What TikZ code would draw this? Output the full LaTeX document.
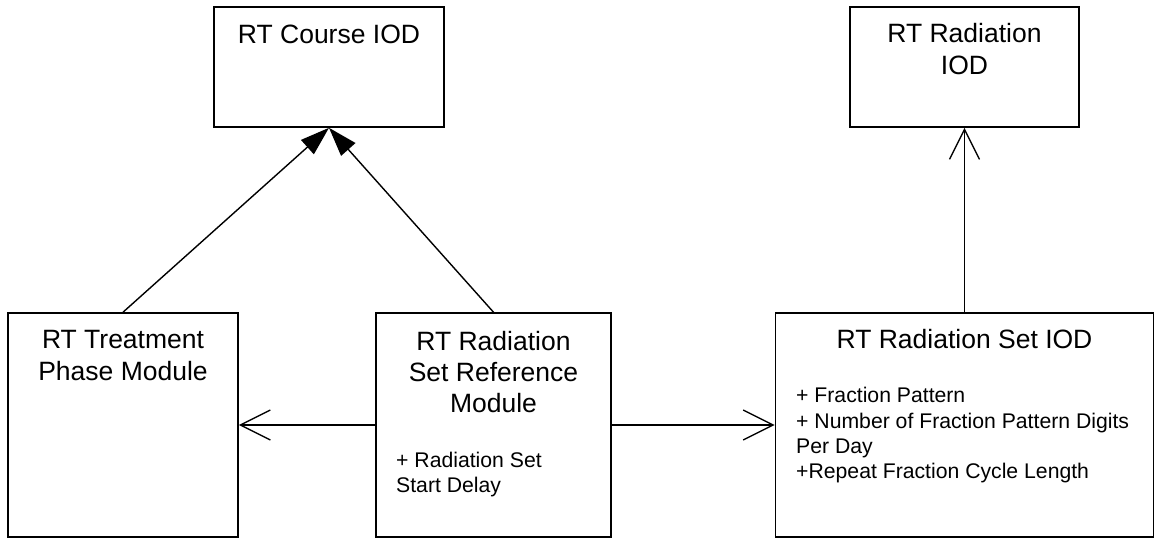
\documentclass[tikz,border=0pt]{standalone}
\usepackage{fontspec}
\setmainfont{Liberation Sans}
\usetikzlibrary{arrows.meta}
\begin{document}
\begin{tikzpicture}[x=1pt,y=-1pt,
  box/.style={draw=black,line width=1.6pt,rectangle,inner sep=0pt},
  ttl/.style={inner sep=0pt,anchor=base,font=\fontsize{26.5}{31}\selectfont},
  attr/.style={inner sep=0pt,anchor=base west,font=\fontsize{21.2}{25}\selectfont},
  conn/.style={line width=1.4pt,draw=black},
  gen/.style={conn,-{Triangle[length=29pt,width=19pt]}},
  dep/.style={conn,-{Straight Barb[length=30pt,width=30pt]}}]
\useasboundingbox (0,0) rectangle (1155,539);
% boxes
\node[box,minimum width=230pt,minimum height=120pt] (course) at (329,67) {};
\node[box,minimum width=229pt,minimum height=120pt] (radiation) at (964.5,67) {};
\node[box,minimum width=230pt,minimum height=224pt] (treat) at (123,425) {};
\node[box,minimum width=235pt,minimum height=224pt] (ref) at (493.5,425) {};
\node[box,minimum width=378pt,minimum height=224pt] (set) at (964.5,425) {};
% titles
\node[ttl] (courseT) at (329,43) {RT Course IOD};
\node[ttl] (radT1) at (964.5,42) {RT Radiation};
\node[ttl] (radT2) at (964.5,74) {IOD};
\node[ttl] (treatT1) at (123,348) {RT Treatment};
\node[ttl] (treatT2) at (123,380) {Phase Module};
\node[ttl] (refT1) at (493.5,350) {RT Radiation};
\node[ttl] (refT2) at (493.5,381) {Set Reference};
\node[ttl] (refT3) at (493.5,412) {Module};
\node[ttl] (setT) at (964.5,348) {RT Radiation Set IOD};
% attributes
\node[attr] (refA1) at (396,467) {+ Radiation Set};
\node[attr] (refA2) at (396,492) {Start Delay};
\node[attr] (setA1) at (796,402) {+ Fraction Pattern};
\node[attr] (setA2) at (796,428) {+ Number of Fraction Pattern Digits};
\node[attr] (setA3) at (796,453) {Per Day};
\node[attr] (setA4) at (796,478) {+Repeat Fraction Cycle Length};
% connectors
\draw[gen] (treat.north) -- (course.south);
\draw[gen] (ref.north) -- (course.south);
\draw[dep] (set.north) -- (radiation.south);
\draw[dep] (ref.west) -- (treat.east);
\draw[dep] (ref.east) -- (set.west);
\end{tikzpicture}
\end{document}
